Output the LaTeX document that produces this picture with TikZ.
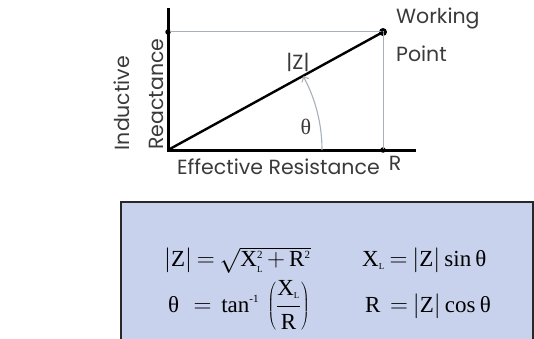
\documentclass[tikz,border=0pt]{standalone}
\usepackage{fontspec}
\setmainfont{Liberation Serif}
\newfontfamily\gsans{Poppins}
\usetikzlibrary{arrows.meta}
\definecolor{txt}{RGB}{58,58,58}
\definecolor{guide}{RGB}{168,176,186}
\definecolor{boxblue}{RGB}{200,210,236}
\definecolor{boxline}{RGB}{40,40,40}
\newcommand{\smallsup}[1]{\hbox{\fontsize{11}{12}\selectfont #1}}
\newcommand{\smallsub}[1]{\hbox{\fontsize{9}{10}\selectfont #1}}
\tikzset{
  axisline/.style={line width=3pt, black, line join=miter},
  guideline/.style={line width=1pt, guide},
  zline/.style={line width=2.4pt, black},
  lab/.style={text=txt, font=\gsans\fontsize{20.5}{23}\selectfont, inner sep=0pt},
  dotnode/.style={circle, fill=black, inner sep=0pt, minimum size=#1},
  formula/.style={anchor=base west, inner sep=0pt, text=black, font=\fontsize{23}{27}\selectfont},
}
\begin{document}
\thickmuskip=3.5mu
\medmuskip=3mu
\begin{tikzpicture}[x=1pt,y=-1pt]
\useasboundingbox (0,0) rectangle (534,339);
% formula box
\draw[fill=boxblue, draw=boxline, line width=2pt] (121,350) -- (121,202) -- (533,202) -- (533,350);
% coordinates
\coordinate (top) at (168,8);
\coordinate (O) at (168,150);
\coordinate (xend) at (416,150);
\coordinate (arcstart) at (322,150);
\node[dotnode=8pt] (WP) at (383,32) {};
\node[dotnode=5.5pt] (XL) at (168,32) {};
\node[dotnode=5.5pt] (Rpt) at (383,150) {};
% guides
\draw[guideline] (XL.center) -- (WP.center) -- (Rpt.center);
% axes
\draw[axisline] (top) -- (O) -- (xend);
% impedance line
\draw[zline] (O) -- (WP.center);
% angle arc
\draw[guideline, line width=1.1pt, -{Straight Barb[length=4pt,width=8pt]}] (arcstart) arc[start angle=0, end angle=-28.6, radius=154];
% labels
\node[lab, anchor=west] (working) at (396,18) {Working};
\node[lab, anchor=west] (point) at (396,54) {Point};
\node[lab] (Rlab) at (395,163) {R};
\node[lab, anchor=west] (eff) at (177,167) {Effective Resistance};
\node[lab, rotate=90] (ind) at (122,103) {Inductive};
\node[lab, rotate=90] (rea) at (156,94) {Reactance};
\node[lab] (zlab) at (298,62) {|Z|};
\node[text=txt, inner sep=0pt, font=\fontsize{22}{24}\selectfont] (th) at (306,127) {θ};
% formulas
\node[formula] (f1) at (164,266) {$|\mathrm{Z}| = \sqrt{\mathrm{X}_{\smallsub{L}}^{\smallsup{2}}+\mathrm{R}^{\smallsup{2}}}$};
\node[formula] (f2) at (168,312) {$\hbox{θ}\;\;=\;\mathrm{tan}^{\smallsup{-1}}\,\left(\displaystyle\frac{\mathrm{X}_{\smallsub{L}}}{\mathrm{R}}\right)$};
\node[formula] (f3) at (362,266) {$\mathrm{X}_{\smallsub{L}} = |\mathrm{Z}|\,\mathrm{sin}\,\hbox{θ}$};
\node[formula] (f4) at (365,312) {$\mathrm{R}\;=|\mathrm{Z}|\,\mathrm{cos}\,\hbox{θ}$};
\end{tikzpicture}
\end{document}
